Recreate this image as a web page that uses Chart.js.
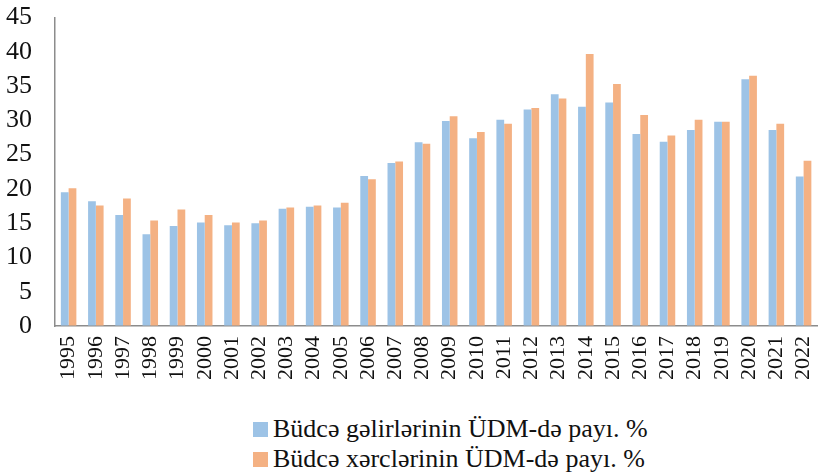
<!DOCTYPE html>
<html>
<head>
<meta charset="utf-8">
<script src="https://cdn.jsdelivr.net/npm/chart.js@4"></script>
<style>
    html, body { margin: 0; padding: 0; background: #fff; overflow: hidden; }
    #wrap { position: relative; width: 840px; height: 394px; }
    #legend {
        position: absolute; left: 253px; top: 414px;
        font-family: "Liberation Serif", "Times New Roman", serif;
        font-size: 26px; color: #111; line-height: 30px;
    }
    #legend .box { display: inline-block; width: 15px; height: 15px; margin-right: 5px; }
</style>
</head>
<body>
<div id="wrap"><canvas id="budgetChart"></canvas></div>
<div id="legend"></div>
<script>
// Years on the x axis
const years = ['1995', '1996', '1997', '1998', '1999', '2000', '2001', '2002', '2003', '2004',
    '2005', '2006', '2007', '2008', '2009', '2010', '2011', '2012', '2013', '2014',
    '2015', '2016', '2017', '2018', '2019', '2020', '2021', '2022'];

// Budget revenues, share of GDP (%)
const revenues = [19.5, 18.2, 16.2, 13.4, 14.6, 15.1, 14.7, 15.0, 17.1, 17.4,
    17.3, 21.9, 23.8, 26.8, 29.9, 27.4, 30.1, 31.6, 33.8, 32.0,
    32.6, 28.0, 26.9, 28.6, 29.8, 36.0, 28.6, 21.8];

// Budget expenditures, share of GDP (%)
const expenditures = [20.1, 17.6, 18.6, 15.4, 17.0, 16.2, 15.1, 15.4, 17.3, 17.6,
    18.0, 21.4, 24.0, 26.6, 30.6, 28.3, 29.5, 31.8, 33.2, 39.7,
    35.3, 30.8, 27.8, 30.1, 29.8, 36.5, 29.5, 24.1];

const seriesNames = ['Büdcə gəlirlərinin ÜDM-də payı. %', 'Büdcə xərclərinin ÜDM-də payı. %'];
const yTicks = [0, 5, 10, 15, 20, 25, 30, 35, 40, 45];

const blue = '#9dc3e6';
const orange = '#f4b183';
const serif = '"Liberation Serif", "Times New Roman", serif';

const ctx = document.getElementById('budgetChart').getContext('2d');
new Chart(ctx, {
    type: 'bar',
    data: {
        labels: years,
        datasets: [
            { label: seriesNames[0], data: revenues, backgroundColor: blue },
            { label: seriesNames[1], data: expenditures, backgroundColor: orange }
        ]
    },
    options: {
        responsive: true,
        maintainAspectRatio: false,
        animation: false,
        layout: { padding: { top: 0, right: 0, bottom: 4, left: 4 } },
        datasets: {
            bar: { barPercentage: 1.0, categoryPercentage: 0.57 }
        },
        plugins: {
            legend: { display: false },
            tooltip: { enabled: false }
        },
        scales: {
            x: {
                grid: { display: true, drawOnChartArea: false, drawTicks: false, tickLength: 0 },
                border: { display: true, color: '#8c8c8c', width: 1.5 },
                ticks: {
                    color: '#111',
                    font: { family: serif, size: 22 },
                    minRotation: 90,
                    maxRotation: 90,
                    padding: 10,
                    autoSkip: false
                }
            },
            y: {
                min: 0,
                max: 45,
                afterBuildTicks: (scale) => {
                    scale.ticks = yTicks.map(v => ({ value: v }));
                },
                // invisible tick marks give the gap between labels and axis line
                grid: { display: true, drawOnChartArea: false, drawTicks: true, tickLength: 21, tickColor: 'rgba(0,0,0,0)' },
                border: { display: true, color: '#8c8c8c', width: 1.5 },
                ticks: {
                    color: '#111',
                    font: { family: serif, size: 26 },
                    padding: 2,
                    autoSkip: false
                }
            }
        }
    }
});

// Legend below the chart, one entry per row
const legendEl = document.getElementById('legend');
[blue, orange].forEach((color, i) => {
    const row = document.createElement('div');
    row.innerHTML = '<span class="box" style="background:' + color + '"></span>' + seriesNames[i];
    legendEl.appendChild(row);
});
</script>
</body>
</html>
